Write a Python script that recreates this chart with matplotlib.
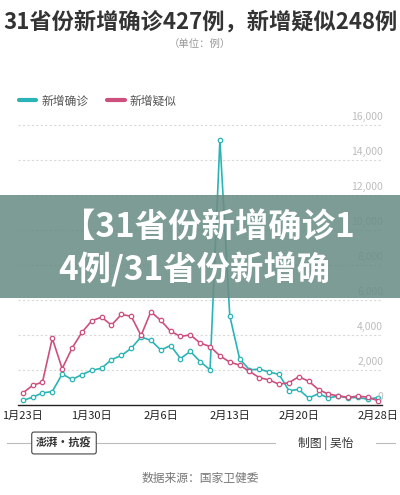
import numpy as np
import matplotlib
matplotlib.use("Agg")
import matplotlib.pyplot as plt
import matplotlib.transforms as mtransforms
from matplotlib.lines import Line2D
from matplotlib.patches import Rectangle

plt.rcParams['font.family'] = ['Noto Sans CJK SC', 'DejaVu Sans']

# daily values, 1月23日 .. 2月28日
confirmed = [259, 444, 688, 769, 1771, 1459, 1737, 1982, 2102,
             2590, 2829, 3235, 3887, 3694, 3143, 3399, 2656, 3062, 2478,
             2015, 15152, 5090, 2641, 2009, 2048, 1886, 1749, 820, 889,
             397, 648, 409, 508, 406, 433, 327, 427]
suspected = [680, 1118, 1309, 3806, 2077, 3248, 4148, 4812, 5019,
             4562, 5173, 5072, 3971, 5328, 4833, 4214, 3916, 4008, 3536,
             3342, 2807, 2450, 2277, 1918, 1563, 1432, 1185, 1277, 1614,
             1361, 882, 620, 530, 439, 508, 452, 248]
tick_days = [0, 7, 14, 21, 28, 36]
tick_labels = ["1月23日", "1月30日", "2月6日", "2月13日", "2月20日", "2月28日"]
y_ticks = [2000, 4000, 6000, 8000, 10000, 12000, 14000, 16000]

TEAL = "#2ab4b6"
PINK = "#cd4f7e"

fig = plt.figure(figsize=(4.0, 4.95), dpi=100)
ax = fig.add_axes([0.045, 0.1818, 0.91, 0.586])

days = np.arange(len(confirmed))
ax.plot(days, confirmed, color=TEAL, lw=1.2, marker='o', ms=3.2,
        mfc='white', mec=TEAL, mew=0.9, zorder=3)
ax.plot(days, suspected, color=PINK, lw=1.2, marker='o', ms=3.2,
        mfc='white', mec=PINK, mew=0.9, zorder=3)

ax.set_xlim(-0.48, 36.44)
ax.set_ylim(0, 16570)

for s in ['top', 'right', 'left']:
    ax.spines[s].set_visible(False)
ax.spines['bottom'].set_color('#222222')
ax.spines['bottom'].set_linewidth(1.0)

ax.set_yticks(y_ticks)
ax.set_yticklabels([])
ax.tick_params(axis='y', length=0)
ax.yaxis.grid(True, color='#d9d9d9', lw=0.8, linestyle=(0, (2, 2)))
ax.set_axisbelow(True)

# right side value labels sitting above the grid lines
trans = mtransforms.blended_transform_factory(ax.transAxes, ax.transData)
off = mtransforms.ScaledTranslation(0, 3 / 100, fig.dpi_scale_trans)
for v in [0] + y_ticks:
    ax.text(1.003, v, f"{v:,}", transform=trans + off, ha='right', va='bottom',
            fontsize=7.5, color='#bdbdbd', clip_on=False)

ax.set_xticks(tick_days)
ax.set_xticklabels(tick_labels, fontsize=8, color='#222222')
ax.tick_params(axis='x', length=0, pad=4.5)

# legend
handles = [Line2D([], [], color=TEAL, lw=3, solid_capstyle='round'),
           Line2D([], [], color=PINK, lw=3, solid_capstyle='round')]
fig.legend(handles, ["新增确诊", "新增疑似"], loc='center left',
           bbox_to_anchor=(0.02, 1 - 101 / 495), ncol=2, frameon=False,
           fontsize=8.5, handlelength=1.5, handletextpad=0.4,
           columnspacing=1.6, labelcolor='#555555')

# title
fig.text(0.5, 1 - 22 / 495, "31省份新增确诊427例，新增疑似248例", ha='center',
         va='center', fontsize=16, fontweight='bold', color='#333333')
fig.text(0.5, 1 - 44 / 495, "（单位：例）", ha='center', va='center',
         fontsize=7.5, color='#999999')

# overlay banner
fig.add_artist(Rectangle((0, 1 - 298 / 495), 1, 103 / 495,
                         transform=fig.transFigure, facecolor='#6a8e86',
                         alpha=0.88, edgecolor='none', zorder=10))
fig.text(62 / 400, 1 - 227 / 495, "【31省份新增确诊1", ha='left', va='center',
         fontsize=24, fontweight='bold', color='white', zorder=11)
fig.text(58 / 400, 1 - 270 / 495, "4例/31省份新增确", ha='left', va='center',
         fontsize=24, fontweight='bold', color='white', zorder=11)

# footer
yf = 1 - 443 / 495
fig.add_artist(Line2D([7 / 400, 33 / 400], [yf, yf], color='#bbbbbb', lw=0.8,
                      transform=fig.transFigure))
fig.add_artist(Line2D([95 / 400, 275 / 400], [yf, yf], color='#bbbbbb', lw=0.8,
                      transform=fig.transFigure))
fig.add_artist(Line2D([376 / 400, 395 / 400], [yf, yf], color='#bbbbbb', lw=0.8,
                      transform=fig.transFigure))
fig.text(64 / 400, yf, "澎湃·抗疫", ha='center', va='center', fontsize=8,
         fontweight='bold', color='#333333',
         bbox=dict(boxstyle='round,pad=0.4,rounding_size=0.2', fc='white',
                   ec='#444444', lw=0.8))
fig.text(326 / 400, yf, "制图 | 吴怡", ha='center', va='center', fontsize=8.5,
         color='#333333')
fig.text(0.5, 1 - 478 / 495, "数据来源：国家卫健委", ha='center', va='center',
         fontsize=8.5, color='#777777')

fig.savefig("out.png", dpi=100)
